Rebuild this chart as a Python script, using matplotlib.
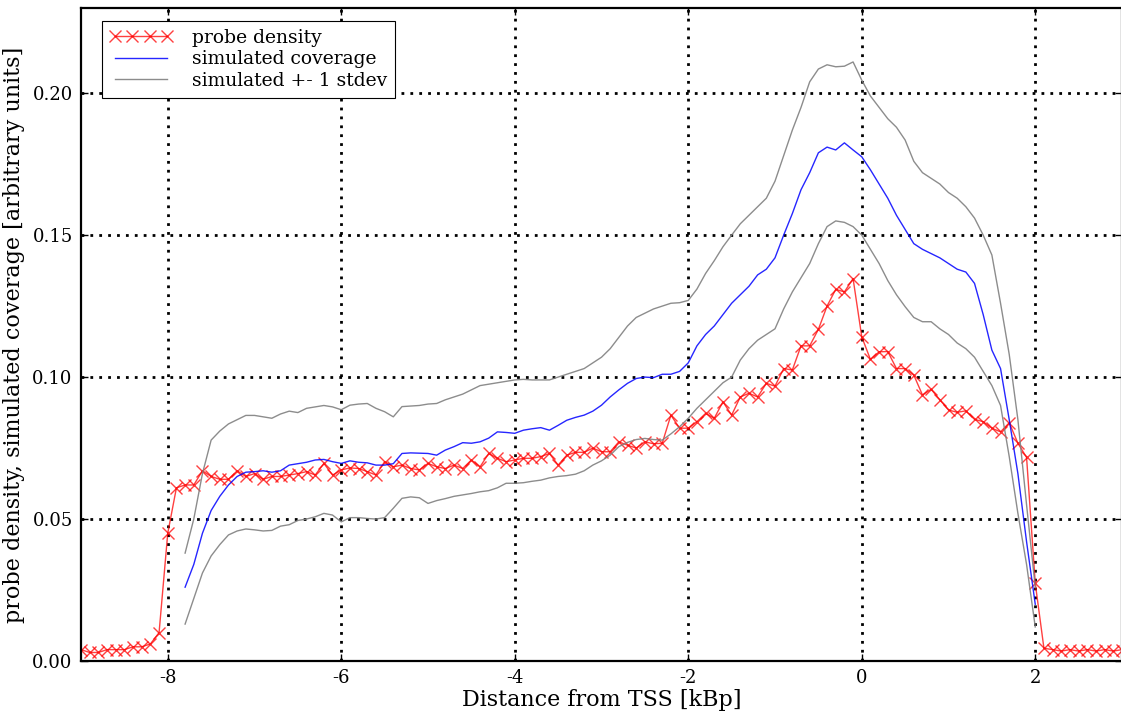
import numpy as np
import matplotlib
matplotlib.use("Agg")
import matplotlib.pyplot as plt

plt.rcParams['font.family'] = ['DejaVu Serif']

# probe density, one point every 0.1 kBp from -9 to 3
probe_x = np.round(np.arange(-9.0, 3.05, 0.1), 1)
probe_y = [
    0.004, 0.003, 0.003, 0.004, 0.004, 0.004, 0.005, 0.005, 0.006, 0.010,
    0.045, 0.061, 0.062, 0.062, 0.067, 0.065, 0.064, 0.064, 0.067, 0.065,
    0.066, 0.064, 0.065, 0.065, 0.0655, 0.066, 0.0667, 0.0655, 0.0696, 0.0655,
    0.0673, 0.068, 0.0678, 0.0667, 0.0655, 0.0702, 0.0684, 0.069, 0.0678, 0.0673,
    0.0696, 0.0684, 0.0678, 0.069, 0.0678, 0.0708, 0.0684, 0.0731, 0.0714, 0.0702,
    0.0708, 0.0714, 0.0714, 0.072, 0.0731, 0.069, 0.0725, 0.0735, 0.0735, 0.075,
    0.0737, 0.0737, 0.0772, 0.076, 0.075, 0.0772, 0.0765, 0.0767, 0.0866, 0.082,
    0.082, 0.0843, 0.0872, 0.0855, 0.0913, 0.0866, 0.093, 0.0943, 0.093, 0.0978,
    0.0968, 0.103, 0.1025, 0.111, 0.111, 0.1168, 0.125, 0.1309, 0.130, 0.1347,
    0.1142, 0.1062, 0.1089, 0.109, 0.103, 0.103, 0.1007, 0.0937, 0.0957, 0.092,
    0.0884, 0.0876, 0.0881, 0.0851, 0.0843, 0.082, 0.0807, 0.0839, 0.0767, 0.0717,
    0.0274, 0.0045, 0.004, 0.0035, 0.004, 0.0035, 0.004, 0.0035, 0.004, 0.0035,
    0.004,
]

# simulated coverage (mean and +- 1 stdev), -7.8 .. 2.0 kBp
sim_x = np.round(np.arange(-7.8, 2.05, 0.1), 1)
sim_mean = [
    0.026, 0.034, 0.045, 0.053, 0.058, 0.062, 0.065, 0.0665, 0.0667, 0.067,
    0.0665, 0.067, 0.069, 0.0695, 0.070, 0.0708, 0.071, 0.0702, 0.0696, 0.0705,
    0.070, 0.0698, 0.069, 0.069, 0.0695, 0.0731, 0.0733, 0.0732, 0.0731, 0.0725,
    0.0743, 0.0755, 0.0769, 0.0767, 0.0772, 0.0785, 0.0807, 0.0805, 0.0802, 0.0813,
    0.0818, 0.0822, 0.0813, 0.083, 0.0848, 0.0858, 0.0866, 0.088, 0.0901, 0.093,
    0.0955, 0.0978, 0.0995, 0.100, 0.0998, 0.101, 0.101, 0.102, 0.105, 0.111,
    0.115, 0.118, 0.122, 0.126, 0.129, 0.132, 0.136, 0.138, 0.142, 0.150,
    0.1576, 0.166, 0.172, 0.179, 0.181, 0.180, 0.1825, 0.180, 0.1776, 0.173,
    0.168, 0.163, 0.157, 0.152, 0.147, 0.145, 0.1435, 0.142, 0.140, 0.138,
    0.137, 0.133, 0.122, 0.1095, 0.103, 0.085, 0.066, 0.042, 0.020,
]
sim_upper = [
    0.038, 0.050, 0.066, 0.0778, 0.081, 0.0835, 0.085, 0.0865, 0.0865, 0.086,
    0.0855, 0.087, 0.088, 0.0875, 0.089, 0.0895, 0.090, 0.0895, 0.0885, 0.0901,
    0.0905, 0.0907, 0.089, 0.0878, 0.086, 0.0896, 0.0898, 0.090, 0.0905, 0.0907,
    0.092, 0.093, 0.094, 0.0955, 0.097, 0.0975, 0.098, 0.0985, 0.099, 0.0992,
    0.099, 0.099, 0.099, 0.100, 0.101, 0.102, 0.103, 0.105, 0.107, 0.110,
    0.114, 0.118, 0.121, 0.1225, 0.124, 0.125, 0.126, 0.1262, 0.127, 0.131,
    0.1365, 0.141, 0.1459, 0.150, 0.154, 0.157, 0.160, 0.163, 0.169, 0.178,
    0.187, 0.195, 0.204, 0.2085, 0.210, 0.2093, 0.2095, 0.211, 0.2046, 0.199,
    0.195, 0.191, 0.188, 0.1835, 0.176, 0.172, 0.170, 0.168, 0.165, 0.163,
    0.160, 0.156, 0.150, 0.143, 0.126, 0.108, 0.085, 0.055, 0.026,
]
sim_lower = [
    0.013, 0.022, 0.031, 0.037, 0.041, 0.0444, 0.0458, 0.0465, 0.0462, 0.0458,
    0.046, 0.0475, 0.048, 0.0495, 0.050, 0.0508, 0.052, 0.0514, 0.049, 0.0505,
    0.0505, 0.0502, 0.050, 0.0505, 0.0538, 0.0573, 0.0578, 0.0575, 0.0555, 0.0565,
    0.0572, 0.058, 0.0585, 0.059, 0.0596, 0.060, 0.061, 0.0626, 0.0626, 0.0628,
    0.0633, 0.0637, 0.0645, 0.065, 0.0653, 0.0658, 0.067, 0.069, 0.0705, 0.0725,
    0.0755, 0.077, 0.078, 0.0784, 0.078, 0.0778, 0.080, 0.0825, 0.0855, 0.089,
    0.092, 0.095, 0.098, 0.100, 0.106, 0.110, 0.113, 0.115, 0.117, 0.124,
    0.130, 0.135, 0.140, 0.147, 0.153, 0.155, 0.1545, 0.153, 0.150, 0.145,
    0.140, 0.134, 0.129, 0.1248, 0.121, 0.1195, 0.1195, 0.117, 0.115, 0.112,
    0.110, 0.107, 0.102, 0.097, 0.090, 0.072, 0.052, 0.034, 0.012,
]

x_ticks = [-8, -6, -4, -2, 0, 2]
y_ticks = [0.00, 0.05, 0.10, 0.15, 0.20]

fig = plt.figure(figsize=(11.21, 7.13), dpi=100)
ax = fig.add_axes([81 / 1121, 52 / 713, 1041 / 1121, 653 / 713])

ax.plot(probe_x, probe_y, color='red', marker='x', markersize=9, lw=1,
        alpha=0.75, label='probe density')
ax.plot(sim_x, sim_mean, color='blue', lw=1, alpha=0.85, label='simulated coverage')
ax.plot(sim_x, sim_upper, color='gray', lw=1, alpha=0.9, label='simulated +- 1 stdev')
ax.plot(sim_x, sim_lower, color='gray', lw=1, alpha=0.9)

ax.set_xlim(-9, 3)
ax.set_ylim(0, 0.23)
ax.set_xticks(x_ticks)
ax.set_yticks(y_ticks)
ax.set_xticklabels([str(t) for t in x_ticks])
ax.set_yticklabels(['%.2f' % t for t in y_ticks])
ax.tick_params(direction='in', length=5, width=1, top=True, right=True,
               labelsize=13, pad=6)
ax.grid(True, color='black', linestyle=(0, (1, 2.2)), lw=2.0)
for s in ax.spines.values():
    s.set_linewidth(1.6)

ax.set_xlabel('Distance from TSS [kBp]', fontsize=16, labelpad=1)
ax.set_ylabel('probe density, simulated coverage [arbitrary units]', fontsize=16, labelpad=5)

leg = ax.legend(loc='upper left', bbox_to_anchor=(0.02, 0.98), borderaxespad=0,
                numpoints=4, handlelength=3.4, fontsize=13.5, fancybox=False,
                framealpha=1, edgecolor='black', labelspacing=0.2,
                handletextpad=1.0, borderpad=0.4)
leg.get_frame().set_linewidth(0.8)

fig.savefig('out.png', dpi=100)
